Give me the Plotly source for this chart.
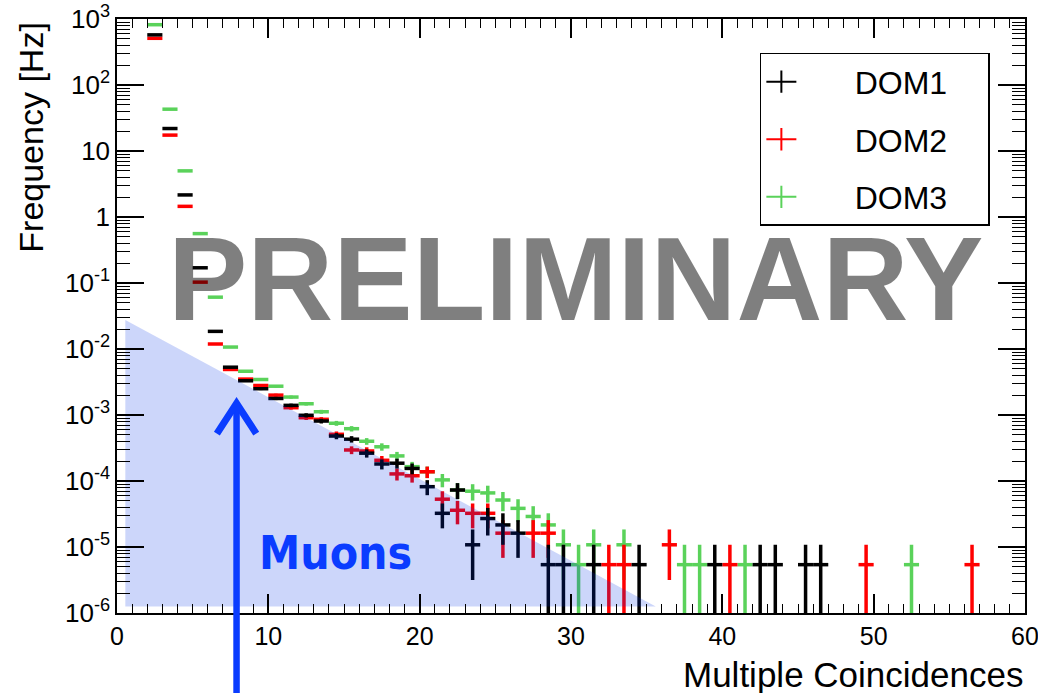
import numpy as np
import plotly.graph_objects as go

# ---------------- data ----------------
UNIT = 5.4e-6   # rate of a single coincidence event [Hz]

dom1_x = [2.5, 3.5, 4.5, 5.5, 6.5, 7.5, 8.5, 9.5, 10.5, 11.5, 12.5, 13.5, 14.5, 15.5,
          16.5, 17.5, 18.5, 19.5, 20.5, 21.5, 22.5, 23.5, 24.5, 25.5, 26.5,
          28.5, 29.5, 31.5, 34.5, 39.5, 42.5, 43.5, 45.5, 46.5]
dom1_y = [575, 21.9, 2.16, 0.17, 0.0185, 0.0053, 0.0033, 0.0025, 0.00178, 0.0014,
          0.00099, 0.00081, 0.00048, 0.00043, 0.000264, 0.000181, 0.000186, 0.000155,
          8.2e-5, 3.24e-5, 7.3e-5, 1.08e-5, 2.7e-5, 2.16e-5, 1.62e-5,
          5.4e-6, 5.4e-6, 5.4e-6, 5.4e-6, 5.4e-6, 5.4e-6, 5.4e-6, 5.4e-6, 5.4e-6]

dom2_x = [2.5, 3.5, 4.5, 5.5, 6.5, 7.5, 8.5, 9.5, 10.5, 11.5, 12.5, 13.5, 14.5, 15.5,
          16.5, 17.5, 18.5, 19.5, 20.5, 21.5, 22.5, 23.5, 24.5, 25.5, 27.5, 28.5,
          32.5, 33.5, 36.5, 40.5, 49.5, 56.5]
dom2_y = [510, 17.4, 1.45, 0.103, 0.0119, 0.0049, 0.0035, 0.0028, 0.002, 0.00129,
          0.00091, 0.00086, 0.00051, 0.000295, 0.000285, 0.000206, 0.000128, 0.00012,
          0.000138, 5.3e-5, 3.6e-5, 3.24e-5, 3.24e-5, 1.62e-5, 1.62e-5, 1.62e-5,
          5.4e-6, 5.4e-6, 1.08e-5, 5.4e-6, 5.4e-6, 5.4e-6]

dom3_x = [2.5, 3.5, 4.5, 5.5, 6.5, 7.5, 8.5, 9.5, 10.5, 11.5, 12.5, 13.5, 14.5, 15.5,
          16.5, 17.5, 18.5, 19.5, 20.5, 21.5, 22.5, 23.5, 24.5, 25.5, 26.5, 27.5, 28.5,
          29.5, 30.5, 31.5, 33.5, 37.5, 38.5, 41.5, 52.5]
dom3_y = [820, 43, 5.0, 0.56, 0.061, 0.0107, 0.0046, 0.00345, 0.00273, 0.00187,
          0.00148, 0.00112, 0.00075, 0.00062, 0.0004, 0.00033, 0.00024, 0.000165,
          0.000138, 0.000104, 7.3e-5, 7.0e-5, 6.6e-5, 5.15e-5, 3.85e-5, 2.9e-5, 2.16e-5,
          1.08e-5, 5.4e-6, 1.08e-5, 1.08e-5, 5.4e-6, 5.4e-6, 5.4e-6, 5.4e-6]

series_names = ["DOM1", "DOM2", "DOM3"]
series_colors = ["#000000", "#ff0000", "#5ad25a"]

# muon expectation band (vertices of the shaded region)
muon_x = [0.55, 35.6, 0.55]
muon_y = [0.0275, 1.25e-6, 1.25e-6]

# y-axis tick labels
y_tickvals = [1e-6, 1e-5, 1e-4, 1e-3, 1e-2, 1e-1, 1, 10, 100, 1000]
y_ticktext = ["10<sup>-6</sup>", "10<sup>-5</sup>", "10<sup>-4</sup>", "10<sup>-3</sup>",
              "10<sup>-2</sup>", "10<sup>-1</sup>", "1", "10", "10<sup>2</sup>",
              "10<sup>3</sup>"]
y_minor_vals = [m * 10.0 ** e for e in range(-6, 3) for m in range(2, 10)]

BIN_HALF_WIDTH = 0.5
FONT = "Liberation Sans, Arial, Helvetica, sans-serif"
BLUE = "#0a3cff"

# ---------------- figure ----------------
fig = go.Figure()

series = [(dom1_x, dom1_y), (dom2_x, dom2_y), (dom3_x, dom3_y)]
# draw DOM3 first, DOM1 last (DOM1 on top)
for idx in [2, 1, 0]:
    xs, ys = series[idx]
    ys_arr = np.array(ys, dtype=float)
    err = np.sqrt(ys_arr * UNIT)
    fig.add_trace(go.Scatter(
        x=xs, y=ys, mode="markers",
        marker=dict(size=1, color=series_colors[idx], opacity=0),
        error_x=dict(type="constant", value=BIN_HALF_WIDTH, color=series_colors[idx],
                     thickness=3.5, width=0),
        error_y=dict(type="data", array=err, symmetric=True, color=series_colors[idx],
                     thickness=3.5, width=0),
        showlegend=False, hoverinfo="skip",
    ))

# legend entries
for name, col in zip(series_names, series_colors):
    fig.add_trace(go.Scatter(
        x=[None], y=[None], mode="lines+markers", name="\u00a0" * 6 + name + "\u00a0" * 4,
        legendgroup=name,
        line=dict(color=col, width=2),
        marker=dict(symbol="line-ns-open", size=16, color=col,
                    line=dict(color=col, width=2)),
    ))

# shaded muon region (semi-transparent overlay)
fig.add_trace(go.Scatter(
    x=muon_x, y=muon_y, mode="lines", fill="toself",
    fillcolor="rgba(0,50,230,0.2)", line=dict(width=0),
    showlegend=False, hoverinfo="skip",
))

fig.update_layout(
    width=1038, height=693,
    margin=dict(l=117, r=13, t=19, b=80, autoexpand=False),
    paper_bgcolor="white", plot_bgcolor="white",
    font=dict(family=FONT, color="black", size=26),
    showlegend=True,
    legend=dict(
        x=0.708, y=0.943, xanchor="left", yanchor="top",
        bgcolor="white", bordercolor="black", borderwidth=1.5,
        font=dict(size=32, family=FONT), traceorder="grouped",
        tracegroupgap=13,
    ),
)

fig.update_xaxes(
    range=[0, 60], showgrid=False, zeroline=False, automargin=False,
    showline=True, linecolor="black", linewidth=1.5, mirror="ticks",
    ticks="inside", ticklen=19, tickwidth=1.5, tickcolor="black",
    tick0=0, dtick=10, tickfont=dict(size=25, family=FONT),
    ticklabeloverflow="allow",
    minor=dict(ticks="inside", ticklen=9, dtick=1, tick0=0, tickwidth=1.2,
               tickcolor="black", showgrid=False),
)
fig.update_yaxes(
    type="log", range=[-6, 3], showgrid=False, zeroline=False, automargin=False,
    showline=True, linecolor="black", linewidth=1.5, mirror="ticks",
    ticks="inside", ticklen=27, tickwidth=1.5, tickcolor="black",
    tickmode="array", tickvals=y_tickvals, ticktext=y_ticktext,
    tickfont=dict(size=26, family=FONT), ticklabeloverflow="allow",
    minor=dict(ticks="inside", ticklen=13, tickmode="array", tickvals=y_minor_vals,
               tickwidth=1.2, tickcolor="black", showgrid=False),
)

# arrow (shaft + open chevron head)
fig.add_shape(type="line", xref="x", yref="paper", x0=7.9, x1=7.9, y0=-0.14, y1=0.35,
              line=dict(color=BLUE, width=6.5))
fig.add_shape(type="path", xref="x", yref="paper",
              path="M 6.6,0.302 L 7.9,0.353 L 9.2,0.302",
              line=dict(color=BLUE, width=7))

annotations = [
    dict(text="<b>PRELIMINARY</b>", x=0.505, y=0.563, xref="paper", yref="paper",
         xanchor="center", yanchor="middle", showarrow=False,
         font=dict(size=119, family=FONT, color="rgba(0,0,0,0.5)")),
    dict(text="<b>Muons</b>", x=14.45, y=0.101, xref="x", yref="paper",
         xanchor="center", yanchor="middle", showarrow=False,
         font=dict(size=46, family="Liberation Sans Narrow, Arial Narrow, DejaVu Sans Condensed, sans-serif",
                   color=BLUE)),
    dict(text="Frequency [Hz]", x=-0.0947, y=0.998, xref="paper", yref="paper",
         xanchor="center", yanchor="top", textangle=-90, showarrow=False,
         font=dict(size=34, family=FONT)),
    dict(text="Multiple Coincidences", x=1.0, y=-0.104, xref="paper", yref="paper",
         xanchor="right", yanchor="middle", showarrow=False,
         font=dict(size=35, family=FONT)),
]
fig.update_layout(annotations=annotations)

fig.write_html("out.html")
